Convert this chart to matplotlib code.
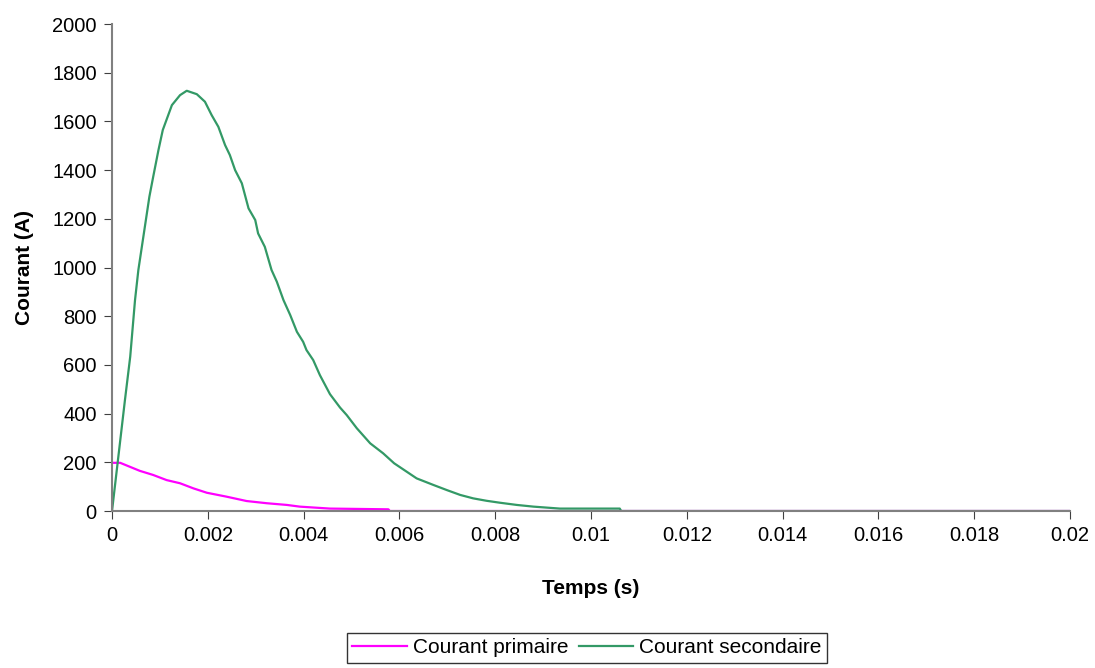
import numpy as np
import matplotlib.pyplot as plt

plt.rcParams['font.family'] = ['Liberation Sans', 'DejaVu Sans']

# Courant secondaire
t_sec = [0, 0.00027, 0.00038, 0.00048, 0.00055, 0.00078, 0.00086, 0.00097, 0.00106,
         0.00125, 0.00142, 0.00156, 0.00177, 0.00194, 0.00208, 0.00222, 0.00236,
         0.00246, 0.00257, 0.00271, 0.00285, 0.00299, 0.00305, 0.00319, 0.00333,
         0.00344, 0.00358, 0.00372, 0.00386, 0.00399, 0.00406, 0.0042, 0.00434,
         0.00455, 0.00476, 0.0049, 0.00511, 0.00539, 0.00566, 0.00589, 0.00636,
         0.00671, 0.00699, 0.00727, 0.00754, 0.00782, 0.0081, 0.00845, 0.0088,
         0.00935, 0.0106, 0.01063, 0.02]
i_sec = [0, 456, 634, 866, 990, 1291, 1373, 1483, 1565,
         1667, 1708, 1726, 1712, 1681, 1626, 1578, 1503,
         1462, 1400, 1346, 1243, 1195, 1140, 1085, 990,
         942, 866, 805, 736, 695, 661, 620, 558,
         480, 425, 394, 340, 278, 237, 196, 134,
         107, 86, 66, 52, 42, 34, 25, 18,
         10, 10, 0, 0]

# Courant primaire
t_pri = [0, 0.00017, 0.00058, 0.00086, 0.00114, 0.00142, 0.0017, 0.00198, 0.00239,
         0.00281, 0.00323, 0.00365, 0.00392, 0.00455, 0.00577, 0.0058, 0.02]
i_pri = [198, 198, 165, 148, 127, 114, 93, 75, 59,
         41, 32, 25, 18, 10, 7, 0, 0]

fig = plt.figure(figsize=(10.95, 6.68), dpi=100)
ax = fig.add_axes([0.1023, 0.235, 0.8749, 0.729])

ax.plot(t_pri, i_pri, color='#ff00ff', lw=1.6, label='Courant primaire')
ax.plot(t_sec, i_sec, color='#339966', lw=1.6, label='Courant secondaire')

ax.set_xlim(0, 0.02)
ax.set_ylim(0, 2000)
ax.set_xticks(np.arange(0, 0.0201, 0.002))
ax.set_xticklabels(['0', '0.002', '0.004', '0.006', '0.008', '0.01', '0.012',
                    '0.014', '0.016', '0.018', '0.02'])
ax.set_yticks(range(0, 2001, 200))
for s in ['top', 'right']:
    ax.spines[s].set_visible(False)
for s in ['left', 'bottom']:
    ax.spines[s].set_color('#808080')
    ax.spines[s].set_linewidth(1.5)
ax.tick_params(direction='out', length=6, color='#404040', labelsize=14.5, pad=5)

ax.set_xlabel('Temps (s)', fontsize=15, fontweight='bold', labelpad=24)
ax.set_ylabel('Courant (A)', fontsize=15, fontweight='bold', labelpad=13)

leg = fig.legend(loc='center', bbox_to_anchor=(0.536, 0.03), ncol=2, fontsize=15,
                 frameon=True, fancybox=False, edgecolor='black', handlelength=2.6,
                 columnspacing=0.5, handletextpad=0.3, borderpad=0.25)
leg.get_frame().set_linewidth(1.0)

fig.savefig('out.png', dpi=100)
